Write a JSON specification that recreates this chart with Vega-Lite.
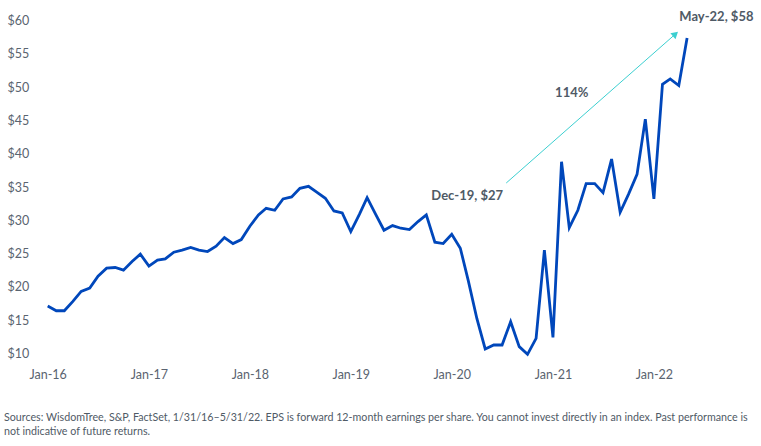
{
  "$schema": "https://vega.github.io/schema/vega-lite/v6.json",
  "autosize": "none",
  "width": 681.7,
  "height": 332.6,
  "padding": {"left": 47.7, "top": 20.7, "right": 31.6, "bottom": 92.7},
  "background": "white",
  "config": {
    "view": {"stroke": null},
    "font": "Lato"
  },
  "title": {
    "text": ["Sources: WisdomTree, S&P, FactSet, 1/31/16–5/31/22. EPS is forward 12-month earnings per share. You cannot invest directly in an index. Past performance is", "not indicative of future returns."],
    "orient": "bottom",
    "anchor": "start",
    "frame": "bounds",
    "font": "Lato",
    "fontSize": 10.7,
    "fontWeight": "normal",
    "color": "#4f5a66",
    "lineHeight": 14,
    "offset": 32,
    "dx": -3
  },
  "datasets": {
    "eps": [
      {"date": "2016-01-01", "eps": 17.1},
      {"date": "2016-02-01", "eps": 16.4},
      {"date": "2016-03-01", "eps": 16.4},
      {"date": "2016-04-01", "eps": 17.8},
      {"date": "2016-05-01", "eps": 19.3},
      {"date": "2016-06-01", "eps": 19.8},
      {"date": "2016-07-01", "eps": 21.6},
      {"date": "2016-08-01", "eps": 22.8},
      {"date": "2016-09-01", "eps": 22.9},
      {"date": "2016-10-01", "eps": 22.5},
      {"date": "2016-11-01", "eps": 23.8},
      {"date": "2016-12-01", "eps": 24.9},
      {"date": "2017-01-01", "eps": 23.1},
      {"date": "2017-02-01", "eps": 24.0},
      {"date": "2017-03-01", "eps": 24.2},
      {"date": "2017-04-01", "eps": 25.2},
      {"date": "2017-05-01", "eps": 25.5},
      {"date": "2017-06-01", "eps": 25.9},
      {"date": "2017-07-01", "eps": 25.5},
      {"date": "2017-08-01", "eps": 25.3},
      {"date": "2017-09-01", "eps": 26.1},
      {"date": "2017-10-01", "eps": 27.4},
      {"date": "2017-11-01", "eps": 26.5},
      {"date": "2017-12-01", "eps": 27.1},
      {"date": "2018-01-01", "eps": 29.1},
      {"date": "2018-02-01", "eps": 30.8},
      {"date": "2018-03-01", "eps": 31.8},
      {"date": "2018-04-01", "eps": 31.5},
      {"date": "2018-05-01", "eps": 33.2},
      {"date": "2018-06-01", "eps": 33.5},
      {"date": "2018-07-01", "eps": 34.8},
      {"date": "2018-08-01", "eps": 35.1},
      {"date": "2018-09-01", "eps": 34.2},
      {"date": "2018-10-01", "eps": 33.3},
      {"date": "2018-11-01", "eps": 31.4},
      {"date": "2018-12-01", "eps": 31.1},
      {"date": "2019-01-01", "eps": 28.3},
      {"date": "2019-02-01", "eps": 30.9},
      {"date": "2019-03-01", "eps": 33.4},
      {"date": "2019-04-01", "eps": 30.9},
      {"date": "2019-05-01", "eps": 28.5},
      {"date": "2019-06-01", "eps": 29.2},
      {"date": "2019-07-01", "eps": 28.8},
      {"date": "2019-08-01", "eps": 28.6},
      {"date": "2019-09-01", "eps": 29.8},
      {"date": "2019-10-01", "eps": 30.8},
      {"date": "2019-11-01", "eps": 26.7},
      {"date": "2019-12-01", "eps": 26.5},
      {"date": "2020-01-01", "eps": 27.9},
      {"date": "2020-02-01", "eps": 25.8},
      {"date": "2020-03-01", "eps": 20.9},
      {"date": "2020-04-01", "eps": 15.2},
      {"date": "2020-05-01", "eps": 10.65},
      {"date": "2020-06-01", "eps": 11.25},
      {"date": "2020-07-01", "eps": 11.25},
      {"date": "2020-08-01", "eps": 14.75},
      {"date": "2020-09-01", "eps": 11.0},
      {"date": "2020-10-01", "eps": 9.85},
      {"date": "2020-11-01", "eps": 12.25},
      {"date": "2020-12-01", "eps": 25.5},
      {"date": "2021-01-01", "eps": 12.4},
      {"date": "2021-02-01", "eps": 38.8},
      {"date": "2021-03-01", "eps": 28.9},
      {"date": "2021-04-01", "eps": 31.5},
      {"date": "2021-05-01", "eps": 35.5},
      {"date": "2021-06-01", "eps": 35.5},
      {"date": "2021-07-01", "eps": 34.15},
      {"date": "2021-08-01", "eps": 39.2},
      {"date": "2021-09-01", "eps": 31.2},
      {"date": "2021-10-01", "eps": 33.9},
      {"date": "2021-11-01", "eps": 36.9},
      {"date": "2021-12-01", "eps": 45.2},
      {"date": "2022-01-01", "eps": 33.2},
      {"date": "2022-02-01", "eps": 50.45},
      {"date": "2022-03-01", "eps": 51.25},
      {"date": "2022-04-01", "eps": 50.25},
      {"date": "2022-05-01", "eps": 57.4}
    ],
    "labels": [
      {"date": "2020-02-26", "eps": 33.7, "text": "Dec-19, $27"},
      {"date": "2021-03-10", "eps": 49.1, "text": "114%"},
      {"date": "2022-08-15", "eps": 60.5, "text": "May-22, $58"}
    ],
    "arrow": [
      {"date": "2020-07-16", "eps": 35.6, "date2": "2022-03-20", "eps2": 58.0}
    ],
    "arrowhead": [
      {"date": "2022-03-20", "eps": 58.0}
    ]
  },
  "encoding": {
    "x": {
      "field": "date",
      "type": "temporal",
      "scale": {"domain": ["2016-01-01", "2022-10-01"]},
      "axis": {
        "title": null,
        "format": "%b-%y",
        "tickCount": {"interval": "year", "step": 1},
        "domain": false,
        "ticks": false,
        "grid": false,
        "labelFlush": false,
        "labelOverlap": false,
        "labelPadding": 15,
        "labelFontSize": 12.5,
        "labelColor": "#5a6470",
        "labelFont": "Lato"
      }
    },
    "y": {
      "field": "eps",
      "type": "quantitative",
      "scale": {"domain": [10, 60], "nice": false, "zero": false},
      "axis": {
        "title": null,
        "values": [10, 15, 20, 25, 30, 35, 40, 45, 50, 55, 60],
        "format": "$,.0f",
        "domain": false,
        "ticks": false,
        "grid": false,
        "labelOverlap": false,
        "labelFlush": false,
        "labelPadding": 19,
        "labelFontSize": 12.5,
        "labelColor": "#5a6470",
        "labelFont": "Lato"
      }
    }
  },
  "layer": [
    {
      "data": {"name": "eps"},
      "mark": {"type": "line", "color": "#0047bb", "strokeWidth": 2.8, "clip": false}
    },
    {
      "data": {"name": "arrow"},
      "mark": {"type": "rule", "color": "#3ccfd0", "strokeWidth": 1},
      "encoding": {
        "x2": {"field": "date2"},
        "y2": {"field": "eps2"}
      }
    },
    {
      "data": {"name": "arrowhead"},
      "mark": {"type": "point", "shape": "triangle-up", "filled": true, "color": "#3ccfd0", "size": 60, "angle": 48.6, "opacity": 1}
    },
    {
      "data": {"name": "labels"},
      "mark": {"type": "text", "font": "Lato", "fontSize": 13, "fontWeight": "bold", "color": "#4f5a66", "align": "center", "baseline": "middle"},
      "encoding": {
        "text": {"field": "text"}
      }
    }
  ]
}
